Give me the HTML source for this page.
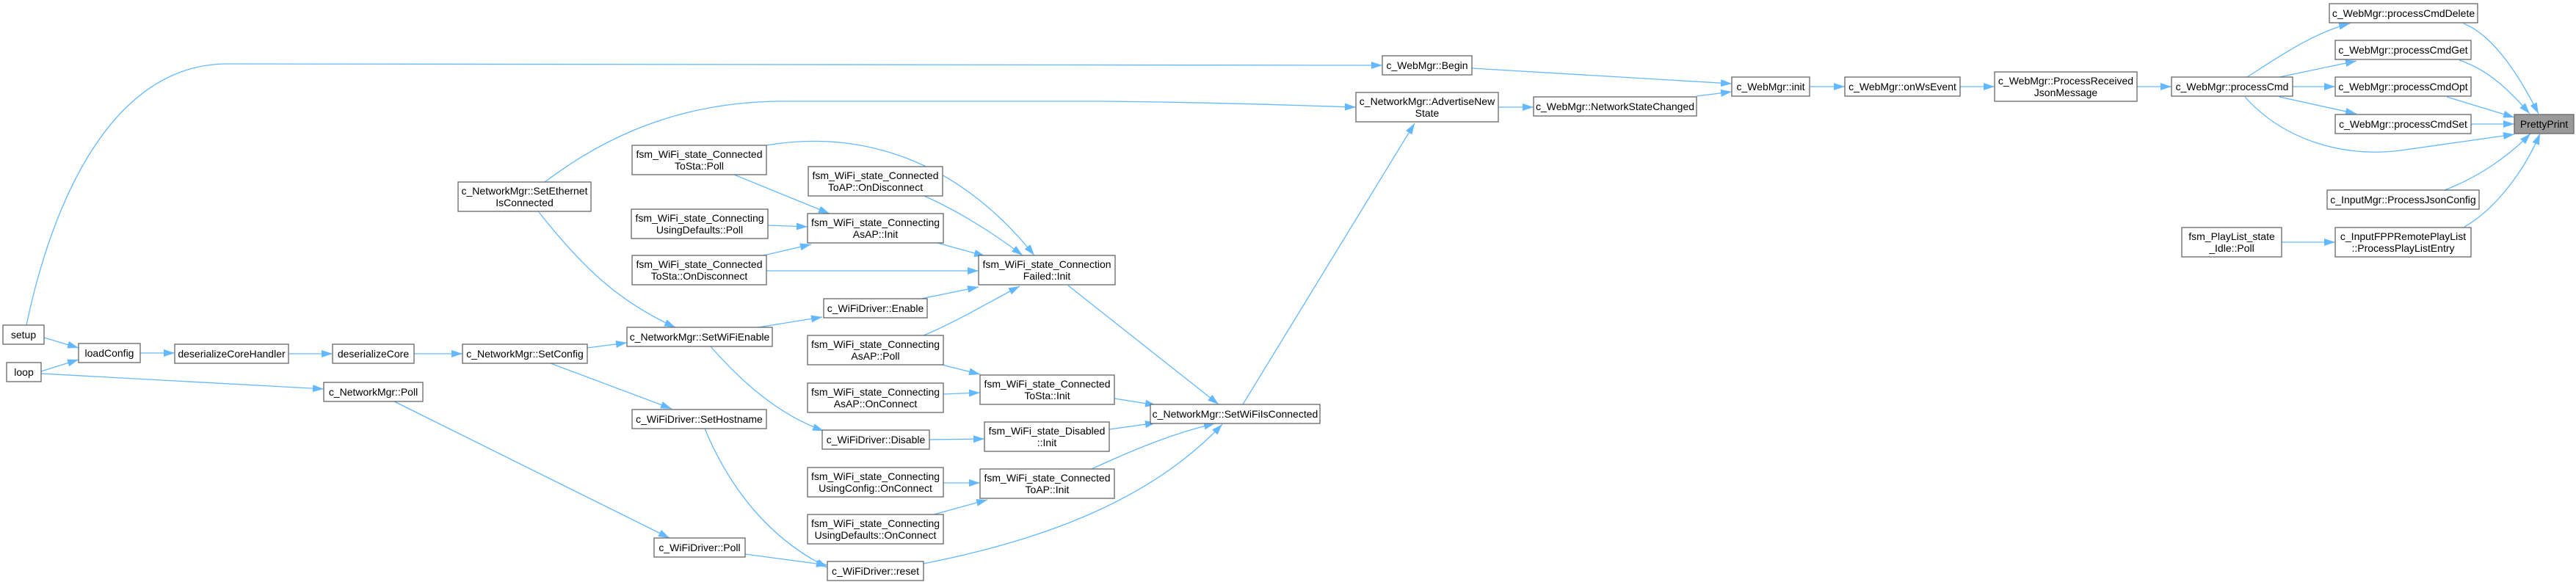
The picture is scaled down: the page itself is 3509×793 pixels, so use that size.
<!DOCTYPE html>
<html><head><meta charset="utf-8"><style>
html,body{margin:0;padding:0;background:#fff;}
svg{display:block;}
text{font-family:"Liberation Sans",Arial,sans-serif;font-size:14px;fill:#000;text-anchor:middle;}
.n{fill:#fff;stroke:#666;stroke-width:1.3;}
.e{fill:none;stroke:#63b8ff;stroke-width:1.3;marker-end:url(#a);}
</style></head><body>
<svg width="3509" height="793" viewBox="0 0 3509 793" xmlns="http://www.w3.org/2000/svg">
<defs><marker id="a" markerUnits="userSpaceOnUse" markerWidth="16" markerHeight="12" refX="15" refY="5" orient="auto"><path d="M0,0 L15,5 L0,10 z" fill="#63b8ff"/></marker></defs>

<!-- edges -->
<path class="e" d="M60,460 L107,474"/>
<path class="e" d="M56,506 L107,490"/>
<path class="e" d="M191,481 L238,481"/>
<path class="e" d="M393,482 L453,482"/>
<path class="e" d="M564,482 L630,482"/>
<path class="e" d="M800,474 L854,467"/>
<path class="e" d="M750,495 L915,557"/>
<path class="e" d="M56,509 L441,530"/>
<path class="e" d="M537,547 L912,733"/>
<path class="e" d="M36,443 C 70,280 150,87 310,87 L1883,89"/>
<path class="e" d="M742,248 C 800,205 900,140 1060,138 L1500,138 C 1700,140 1800,145 1847,146"/>
<path class="e" d="M734,289 C 790,360 840,410 920,446"/>
<path class="e" d="M1000,238 L1130,291"/>
<path class="e" d="M1044,198 C 1150,180 1290,200 1409,348"/>
<path class="e" d="M1259,267 C 1300,285 1350,315 1393,348"/>
<path class="e" d="M1046,307 L1100,309"/>
<path class="e" d="M1040,348 L1105,333"/>
<path class="e" d="M1044,369 L1333,369"/>
<path class="e" d="M1277,331 L1342,349"/>
<path class="e" d="M1255,407 L1333,391"/>
<path class="e" d="M1033,446 L1120,432"/>
<path class="e" d="M967,471 C 1010,520 1060,565 1122,587"/>
<path class="e" d="M1258,457 C 1300,440 1350,410 1389,390"/>
<path class="e" d="M1283,497 L1335,510"/>
<path class="e" d="M1285,537 L1335,535"/>
<path class="e" d="M1455,389 L1660,551"/>
<path class="e" d="M1518,543 L1575,552"/>
<path class="e" d="M1266,599 L1341,598"/>
<path class="e" d="M1511,585 L1575,576"/>
<path class="e" d="M1285,658 L1335,658"/>
<path class="e" d="M1272,701 L1345,681"/>
<path class="e" d="M1487,639 C 1550,610 1600,590 1655,577"/>
<path class="e" d="M960,584 C 1000,680 1060,740 1127,773"/>
<path class="e" d="M1015,755 L1127,770"/>
<path class="e" d="M1258,768 C 1400,740 1560,690 1665,578"/>
<path class="e" d="M1693,551 L1927,168"/>
<path class="e" d="M2041,146 L2089,146"/>
<path class="e" d="M2311,131 L2359,125"/>
<path class="e" d="M2005,93 L2359,114"/>
<path class="e" d="M2465,118 L2513,118"/>
<path class="e" d="M2670,118 L2717,118"/>
<path class="e" d="M2911,118 L2958,118"/>
<path class="e" d="M3061,105 C 3100,80 3150,45 3201,32"/>
<path class="e" d="M3105,105 L3210,83"/>
<path class="e" d="M3123,118 L3181,118"/>
<path class="e" d="M3105,132 L3210,155"/>
<path class="e" d="M3058,132 C 3110,190 3190,215 3270,205 L3425,183"/>
<path class="e" d="M3356,32 C 3400,50 3435,110 3458,155"/>
<path class="e" d="M3350,82 C 3390,95 3420,125 3446,155"/>
<path class="e" d="M3333,132 L3425,160"/>
<path class="e" d="M3366,169 L3425,169"/>
<path class="e" d="M3330,259 C 3380,240 3420,210 3447,182"/>
<path class="e" d="M3357,309 C 3400,285 3440,230 3460,182"/>
<path class="e" d="M3108,330 L3181,330"/>

<!-- nodes -->
<rect class="n" x="4" y="443" width="56" height="26"/><text x="32" y="461">setup</text>
<rect class="n" x="9" y="494" width="47" height="26"/><text x="32.5" y="512">loop</text>
<rect class="n" x="107" y="468" width="84" height="26"/><text x="149" y="486">loadConfig</text>
<rect class="n" x="238" y="469" width="155" height="26"/><text x="315.5" y="487">deserializeCoreHandler</text>
<rect class="n" x="453" y="469" width="111" height="26"/><text x="508.5" y="487">deserializeCore</text>
<rect class="n" x="630" y="469" width="170" height="26"/><text x="715" y="487">c_NetworkMgr::SetConfig</text>
<rect class="n" x="441" y="521" width="135" height="26"/><text x="508.5" y="539">c_NetworkMgr::Poll</text>
<rect class="n" x="624" y="248" width="181" height="40"/><text x="714.5" y="265">c_NetworkMgr::SetEthernet</text><text x="714.5" y="281">IsConnected</text>
<rect class="n" x="861" y="198" width="183" height="40"/><text x="952.5" y="215">fsm_WiFi_state_Connected</text><text x="952.5" y="231">ToSta::Poll</text>
<rect class="n" x="1101" y="227" width="183" height="40"/><text x="1192.5" y="244">fsm_WiFi_state_Connected</text><text x="1192.5" y="260">ToAP::OnDisconnect</text>
<rect class="n" x="860" y="285" width="186" height="40"/><text x="953" y="302">fsm_WiFi_state_Connecting</text><text x="953" y="318">UsingDefaults::Poll</text>
<rect class="n" x="1100" y="291" width="185" height="40"/><text x="1192.5" y="308">fsm_WiFi_state_Connecting</text><text x="1192.5" y="324">AsAP::Init</text>
<rect class="n" x="861" y="348" width="183" height="40"/><text x="952.5" y="365">fsm_WiFi_state_Connected</text><text x="952.5" y="381">ToSta::OnDisconnect</text>
<rect class="n" x="1333" y="348" width="186" height="40"/><text x="1426" y="365">fsm_WiFi_state_Connection</text><text x="1426" y="381">Failed::Init</text>
<rect class="n" x="1122" y="407" width="141" height="26"/><text x="1192.5" y="425">c_WiFiDriver::Enable</text>
<rect class="n" x="854" y="446" width="198" height="26"/><text x="953" y="464">c_NetworkMgr::SetWiFiEnable</text>
<rect class="n" x="1100" y="457" width="185" height="40"/><text x="1192.5" y="474">fsm_WiFi_state_Connecting</text><text x="1192.5" y="490">AsAP::Poll</text>
<rect class="n" x="1100" y="522" width="185" height="40"/><text x="1192.5" y="539">fsm_WiFi_state_Connecting</text><text x="1192.5" y="555">AsAP::OnConnect</text>
<rect class="n" x="1335" y="511" width="183" height="40"/><text x="1426.5" y="528">fsm_WiFi_state_Connected</text><text x="1426.5" y="544">ToSta::Init</text>
<rect class="n" x="861" y="558" width="183" height="26"/><text x="952.5" y="576">c_WiFiDriver::SetHostname</text>
<rect class="n" x="1120" y="586" width="146" height="26"/><text x="1193" y="604">c_WiFiDriver::Disable</text>
<rect class="n" x="1341" y="575" width="170" height="40"/><text x="1426" y="592">fsm_WiFi_state_Disabled</text><text x="1426" y="608">::Init</text>
<rect class="n" x="1567" y="551" width="231" height="26"/><text x="1682.5" y="569">c_NetworkMgr::SetWiFiIsConnected</text>
<rect class="n" x="1100" y="637" width="185" height="40"/><text x="1192.5" y="654">fsm_WiFi_state_Connecting</text><text x="1192.5" y="670">UsingConfig::OnConnect</text>
<rect class="n" x="1335" y="639" width="183" height="40"/><text x="1426.5" y="656">fsm_WiFi_state_Connected</text><text x="1426.5" y="672">ToAP::Init</text>
<rect class="n" x="1100" y="701" width="185" height="40"/><text x="1192.5" y="718">fsm_WiFi_state_Connecting</text><text x="1192.5" y="734">UsingDefaults::OnConnect</text>
<rect class="n" x="891" y="733" width="124" height="26"/><text x="953" y="751">c_WiFiDriver::Poll</text>
<rect class="n" x="1127" y="765" width="131" height="26"/><text x="1192.5" y="783">c_WiFiDriver::reset</text>
<rect class="n" x="1883" y="76" width="122" height="26"/><text x="1944" y="94">c_WebMgr::Begin</text>
<rect class="n" x="1847" y="126" width="194" height="40"/><text x="1944" y="143">c_NetworkMgr::AdvertiseNew</text><text x="1944" y="159">State</text>
<rect class="n" x="2089" y="132" width="222" height="26"/><text x="2200" y="150">c_WebMgr::NetworkStateChanged</text>
<rect class="n" x="2359" y="105" width="106" height="26"/><text x="2412" y="123">c_WebMgr::init</text>
<rect class="n" x="2513" y="105" width="157" height="26"/><text x="2591.5" y="123">c_WebMgr::onWsEvent</text>
<rect class="n" x="2717" y="98" width="194" height="40"/><text x="2814" y="115">c_WebMgr::ProcessReceived</text><text x="2814" y="131">JsonMessage</text>
<rect class="n" x="2958" y="105" width="165" height="26"/><text x="3040.5" y="123">c_WebMgr::processCmd</text>
<rect class="n" x="3173" y="5" width="202" height="26"/><text x="3274" y="23">c_WebMgr::processCmdDelete</text>
<rect class="n" x="3181" y="55" width="185" height="26"/><text x="3273.5" y="73">c_WebMgr::processCmdGet</text>
<rect class="n" x="3181" y="105" width="185" height="26"/><text x="3273.5" y="123">c_WebMgr::processCmdOpt</text>
<rect class="n" x="3181" y="156" width="185" height="26"/><text x="3273.5" y="174">c_WebMgr::processCmdSet</text>
<rect x="3425" y="156" width="81" height="26" fill="#999" stroke="#666" stroke-width="1.3"/><text x="3465.5" y="174">PrettyPrint</text>
<rect class="n" x="3170" y="259" width="207" height="26"/><text x="3273.5" y="277">c_InputMgr::ProcessJsonConfig</text>
<rect class="n" x="2972" y="310" width="136" height="40"/><text x="3040" y="327">fsm_PlayList_state</text><text x="3040" y="343">_Idle::Poll</text>
<rect class="n" x="3181" y="310" width="185" height="40"/><text x="3273.5" y="327">c_InputFPPRemotePlayList</text><text x="3273.5" y="343">::ProcessPlayListEntry</text>
</svg>
</body></html>
